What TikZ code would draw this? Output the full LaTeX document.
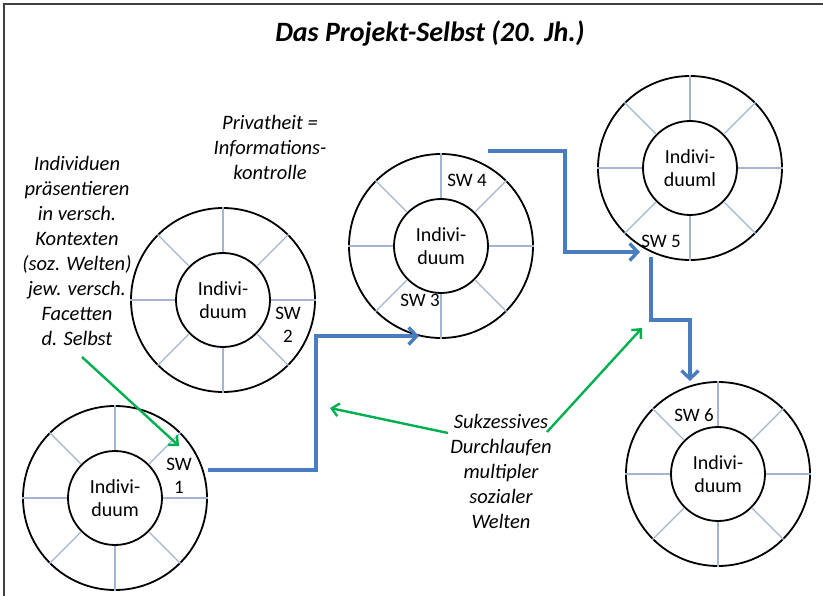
\documentclass[tikz,border=0pt]{standalone}
\usepackage{fontspec}
\setmainfont{Carlito}
\usetikzlibrary{arrows.meta}
\definecolor{flowblue}{HTML}{4A7CC0}
\definecolor{hintgreen}{HTML}{00B050}
\definecolor{spokegray}{HTML}{A3B5CF}
\tikzset{
  outerring/.style={circle,draw,line width=1.8pt,minimum size=184pt,inner sep=0pt},
  innerring/.style={circle,draw,line width=1.8pt,minimum size=94pt,inner sep=0pt,
    align=center,font=\fontsize{20}{23}\selectfont},
  spoke/.style={draw=spokegray,line width=1.3pt},
  swlabel/.style={align=center,font=\fontsize{19}{23}\selectfont},
  note/.style={align=center,font=\fontsize{20.5}{25}\selectfont\itshape},
  flow/.style={draw=flowblue,line width=3.4pt,-{Straight Barb[length=8pt,width=17pt]}},
  hint/.style={draw=hintgreen,line width=2.4pt,-{Straight Barb[length=7pt,width=13pt]}}
}
\begin{document}
\begin{tikzpicture}[x=1pt,y=-1pt]
  \useasboundingbox (0,0) rectangle (823,596);
  \draw[line width=2pt,black!75] (4,600) -- (4,4) -- (830,4);

  \node[font=\fontsize{28}{32}\selectfont\bfseries\itshape] (title) at (430,33)
    {Das Projekt-Selbst (20. Jh.)};

  % worlds
  \node[outerring] (o1) at (115,498) {};
  \node[innerring] (i1) at (115,498) {Indivi-\\duum};
  \node[outerring] (o2) at (223,300) {};
  \node[innerring] (i2) at (223,300) {Indivi-\\duum};
  \node[outerring] (o3) at (441,246) {};
  \node[innerring] (i3) at (441,246) {Indivi-\\duum};
  \node[outerring] (o4) at (690,168) {};
  \node[innerring] (i4) at (690,168) {Indivi-\\duuml};
  \node[outerring] (o5) at (718,474) {};
  \node[innerring] (i5) at (718,474) {Indivi-\\duum};
  \foreach \n in {1,...,5}
    \foreach \a in {0,45,...,315}
      \draw[spoke] (i\n.\a) -- (o\n.\a);

  \node[swlabel] (sw1) at (179,476) {SW\\1};
  \node[swlabel] (sw2) at (288,325) {SW\\2};
  \node[swlabel] (sw3) at (420,300) {SW 3};
  \node[swlabel] (sw4) at (467,180) {SW 4};
  \node[swlabel] (sw5) at (661,241) {SW 5};
  \node[swlabel] (sw6) at (694,415) {SW 6};

  \node[note] (facets) at (77,251) {Individuen\\präsentieren\\in versch.\\Kontexten\\(soz. Welten)\\jew. versch.\\Facetten\\d. Selbst};
  \node[note] (privacy) at (270,147) {Privatheit =\\Informations-\\kontrolle};
  \node[note] (sukz) at (501,471) {Sukzessives\\Durchlaufen\\multipler\\sozialer\\Welten};

  % path through the worlds
  \coordinate (f1s) at (208,470);
  \coordinate (f1e) at (419,336);
  \coordinate (f2s) at (488,151);
  \coordinate (f2e) at (640,252);
  \coordinate (f3s) at (651,257);
  \coordinate (f3e) at (690,381);
  \draw[flow] (f1s) -- ++(108,0) |- (f1e);
  \draw[flow] (f2s) -- ++(77,0) |- (f2e);
  \draw[flow] (f3s) -- ++(0,63) -| (f3e);

  \coordinate (g1s) at (82,357);
  \coordinate (g1e) at (179,446);
  \coordinate (g2s) at (448,433);
  \coordinate (g2e) at (330,408);
  \coordinate (g3s) at (547,432);
  \coordinate (g3e) at (642,328);
  \draw[hint] (g1s) -- (g1e);
  \draw[hint] (g2s) -- (g2e);
  \draw[hint] (g3s) -- (g3e);
\end{tikzpicture}
\end{document}
